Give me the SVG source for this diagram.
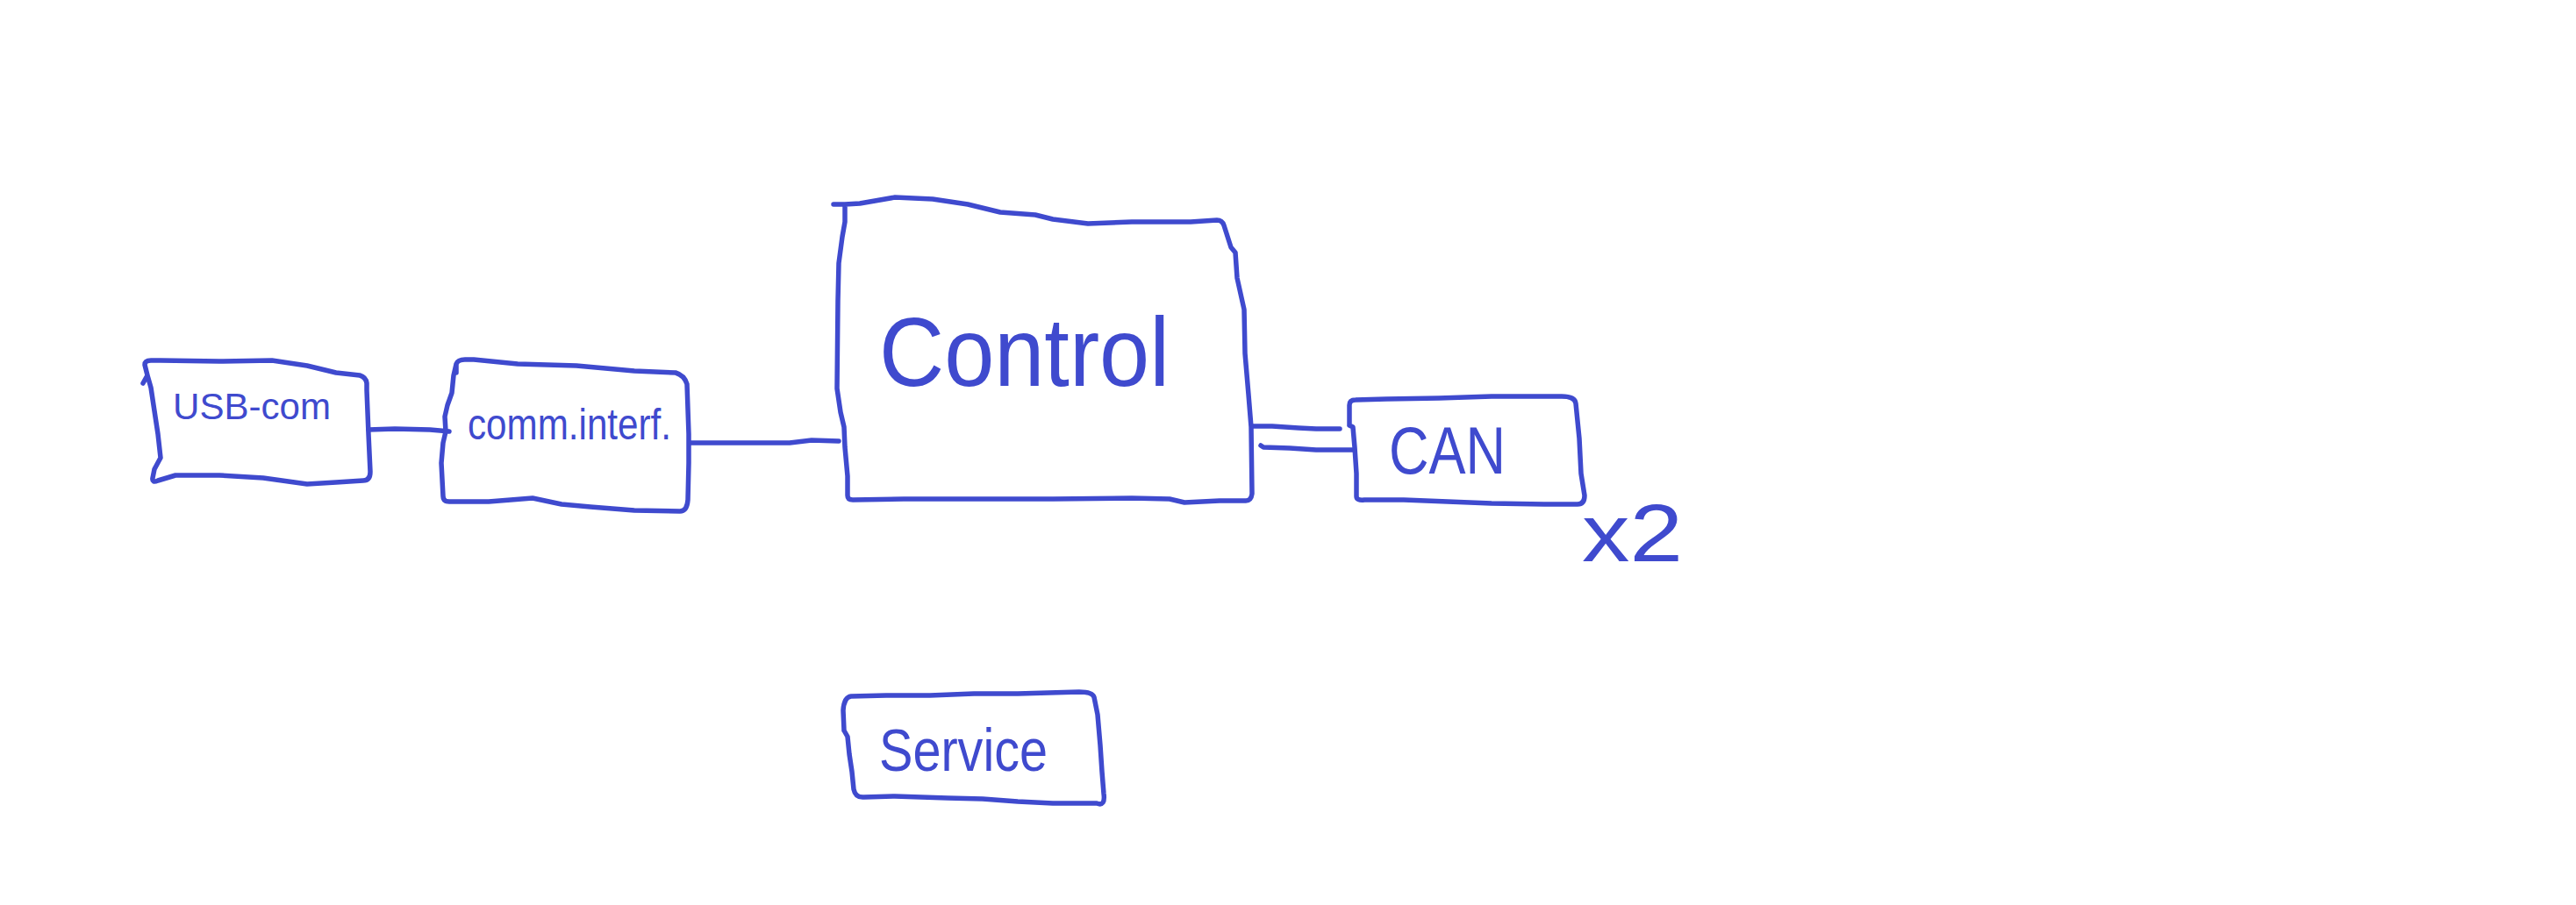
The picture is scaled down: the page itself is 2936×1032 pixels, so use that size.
<svg xmlns="http://www.w3.org/2000/svg" width="2936" height="1032" viewBox="0 0 2936 1032">
  <style>
    .ink { fill: none; stroke: #3F4ACE; stroke-width: 5.5; stroke-linecap: round; stroke-linejoin: round; }
    .lbl { fill: #3F4ACE; font-family: "Liberation Sans", "DejaVu Sans", sans-serif; }
  </style>
  <rect x="0" y="0" width="2936" height="1032" fill="#ffffff"/>
  <g id="connectors">
    <path class="ink" d="M 420,490 L 450,489 L 490,490 L 512,492"/>
    <path class="ink" d="M 786,505 L 840,505 L 900,505 L 925,502 L 956,503"/>
    <path class="ink" d="M 1428,486 L 1450,486 L 1480,488 L 1500,489 L 1527,489"/>
    <path class="ink" d="M 1437,508 L 1440,510 L 1470,511 L 1500,513 L 1543,513"/>
  </g>
  <g id="usb-com">
    <path class="ink" d="M 163,437 L 168,428 L 165,416 Q 165,411 172,411 L 183,411 L 250,412 L 310,411 L 350,417 L 383,425 L 410,428 Q 417,430 418,437 L 418,445 L 420,495 L 422,538 Q 422,548 414,548 L 383,550 L 350,552 L 300,545 L 250,542 L 200,542 L 180,548 Q 173,551 174,545 L 176,535 L 183,522 L 180,495 L 175,462 L 172,442 L 168,428"/>
    <text class="lbl" x="197" y="478" font-size="43" textLength="180" lengthAdjust="spacingAndGlyphs">USB-com</text>
  </g>
  <g id="comm-interf">
    <path class="ink" d="M 520,425 L 520,415 Q 522,410 530,410 L 540,410 L 590,415 L 657,417 L 723,423 L 770,425 Q 780,428 783,438 L 785,495 L 785,528 L 784,570 Q 783,583 775,583 L 723,582 L 673,578 L 640,575 L 607,568 L 557,572 L 512,572 Q 505,572 505,566 L 503,528 L 505,505 L 508,492 L 507,475 L 510,462 L 515,448 L 517,428 L 520,415"/>
    <text class="lbl" x="533" y="501" font-size="50" textLength="232" lengthAdjust="spacingAndGlyphs">comm.interf.</text>
  </g>
  <g id="control">
    <path class="ink" d="M 950,233 L 963,233 L 980,232 L 1020,225 L 1063,227 L 1103,233 L 1140,242 L 1180,245 L 1200,250 L 1240,255 L 1290,253 L 1357,253 L 1387,251 Q 1393,251 1395,257 L 1403,282 L 1408,288 L 1410,317 L 1418,353 L 1419,403 L 1423,450 L 1426,487 L 1427,563 Q 1426,571 1420,571 L 1390,571 L 1350,573 L 1333,569 L 1290,568 L 1200,569 L 1030,569 L 972,570 Q 966,570 966,565 L 966,543 L 963,510 L 962,487 L 958,470 L 954,443 L 955,343 L 956,300 L 960,270 L 963,253 L 963,233"/>
    <text class="lbl" x="1002" y="440" font-size="112" textLength="331" lengthAdjust="spacingAndGlyphs">Control</text>
  </g>
  <g id="can">
    <path class="ink" d="M 1538,485 L 1538,462 Q 1538,456 1545,456 L 1580,455 L 1640,454 L 1700,452 L 1780,452 Q 1795,452 1796,460 L 1800,500 L 1802,540 L 1806,565 Q 1806,575 1798,575 L 1760,575 L 1700,574 L 1650,572 L 1600,570 L 1555,570 Q 1546,571 1546,566 L 1546,540 L 1544,510 L 1542,487 L 1538,485"/>
    <text class="lbl" x="1583" y="540" font-size="76" textLength="133" lengthAdjust="spacingAndGlyphs">CAN</text>
  </g>
  <g id="multiplier">
    <text class="lbl" x="1803" y="640" font-size="92" textLength="115" lengthAdjust="spacingAndGlyphs">x2</text>
  </g>
  <g id="service">
    <path class="ink" d="M 962,833 L 961,810 Q 962,795 970,794 L 1010,793 L 1060,793 L 1110,791 L 1160,791 L 1230,789 Q 1245,789 1247,795 L 1251,815 L 1254,850 L 1256,880 L 1258,905 Q 1260,920 1250,916 L 1200,916 L 1160,914 L 1120,911 L 1080,910 L 1020,908 L 985,909 Q 975,910 973,900 L 971,880 L 968,860 L 966,840 L 962,833"/>
    <text class="lbl" x="1002" y="879" font-size="68" textLength="192" lengthAdjust="spacingAndGlyphs">Service</text>
  </g>
</svg>
